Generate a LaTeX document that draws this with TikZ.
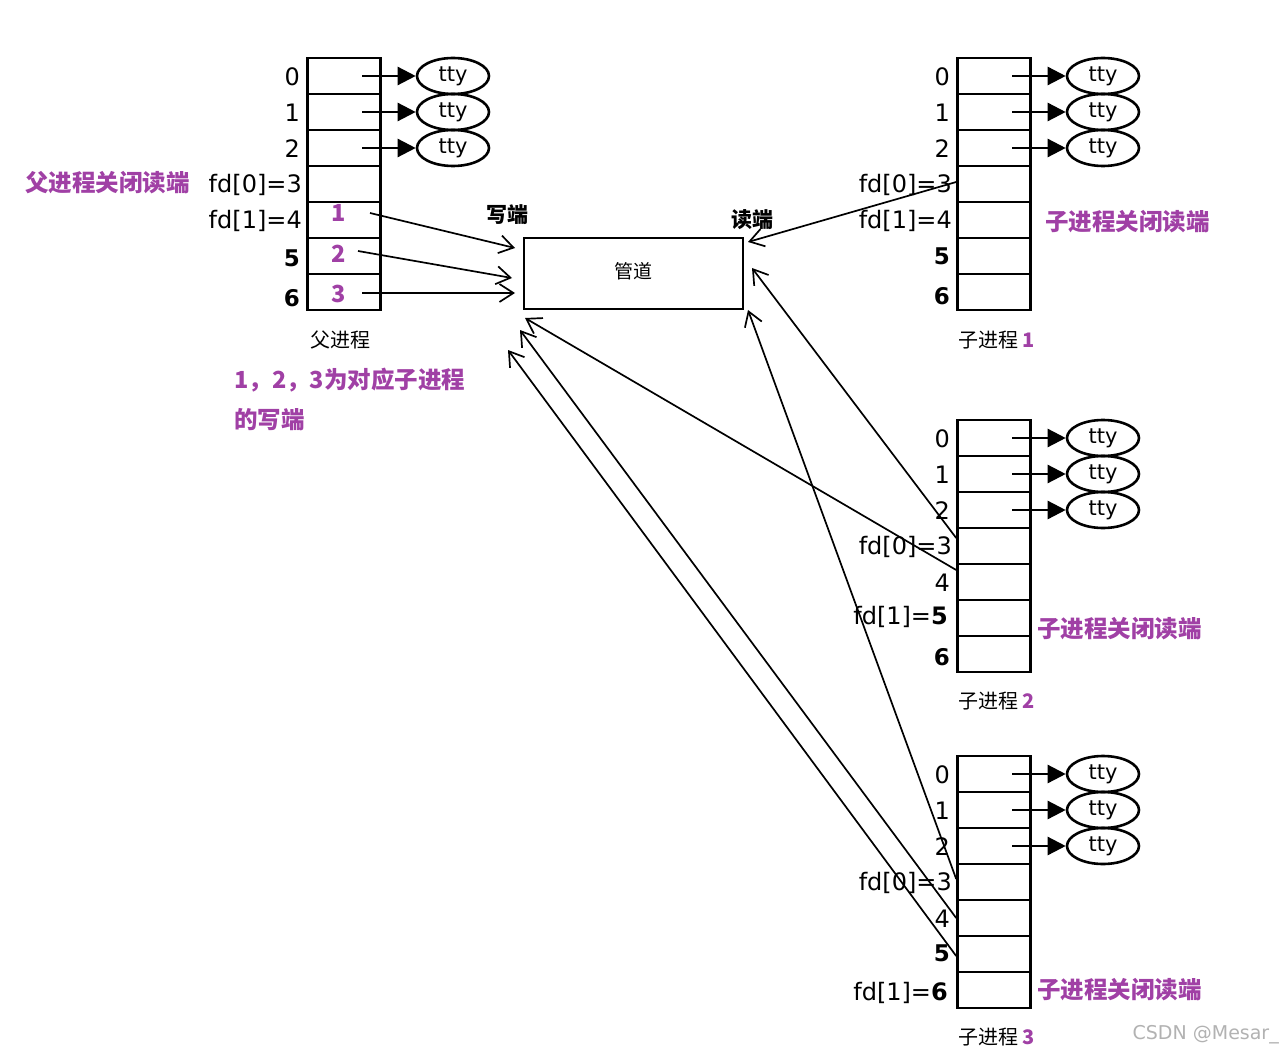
\documentclass[tikz,border=0pt]{standalone}
\usepackage{fontspec}
\setmainfont{DejaVu Sans}
\newfontfamily\cjk{Noto Sans CJK SC}
\usetikzlibrary{arrows.meta,shapes.geometric}
\definecolor{mag}{RGB}{160,64,165}
\begin{document}
\begin{tikzpicture}[x=1pt,y=-1pt,
 cell/.style={draw,line width=2.6pt,minimum width=73pt,minimum height=36pt,inner sep=0pt},
 tty/.style={draw,ellipse,line width=2.6pt,minimum width=72pt,minimum height=36pt,inner sep=0pt,font=\fontsize{21}{21}\selectfont},
 lab/.style={font=\fontsize{24}{24}\selectfont,anchor=east,inner sep=0pt},
 blab/.style={lab,font=\fontsize{23}{23}\selectfont\bfseries},
 mg/.style={text=mag,font=\cjk\fontsize{23.5}{23.5}\selectfont\bfseries,inner sep=0pt},
 captxt/.style={font=\cjk\fontsize{20}{20}\selectfont,inner sep=0pt},
 ta/.style={-{Triangle[length=18pt,width=18pt]},line width=2.4pt},
 pa/.style={-{Straight Barb[length=14pt,width=18pt]},line width=1.7pt}]
\useasboundingbox[fill=white] (0,0) rectangle (1281,1056);
% tables
\foreach \tx/\ty/\nm in {344/58/p,994/58/a,994/420/b,994/756/c}{
 \foreach \i in {0,...,6}{
  \node[cell] (\nm\i) at (\tx,\ty+18+36*\i) {};
 }
 \foreach \i in {0,1,2}{
  \node[tty] (\nm t\i) at (\tx+109,\ty+18+36*\i) {tty};
  \coordinate (\nm s\i) at (\tx+18,\ty+18+36*\i);
  \draw[ta] (\nm s\i) -- (\nm t\i.west);
 }
}
% parent labels
\node[lab] at (300,77) {0};
\node[lab] at (300,113) {1};
\node[lab] at (300,149) {2};
\node[lab] at (302,185) {fd[0]=3};
\node[lab] at (302,221) {fd[1]=4};
\node[blab] at (300,258) {5};
\node[blab] at (300,298) {6};
\node[mg] (m1) at (339,213) {1};
\node[mg] (m2) at (339,254) {2};
\node[mg] (m3) at (339,294) {3};
\node[mg,anchor=west] at (25,183) {父进程关闭读端};
\node[captxt] at (340,340) {父进程};
\node[mg,anchor=west] at (234,380) {1，2，3为对应子进程};
\node[mg,anchor=west] at (234,420) {的写端};
% child 1
\node[lab] at (950,77) {0};
\node[lab] at (950,113) {1};
\node[lab] at (950,149) {2};
\node[lab] at (952,185) {fd[0]=3};
\node[lab] at (952,221) {fd[1]=4};
\node[blab] at (950,256) {5};
\node[blab] at (950,296) {6};
\node[mg,anchor=west] at (1045,222) {子进程关闭读端};
\node[captxt,anchor=west] at (958,340) {子进程 \textcolor{mag}{\bfseries 1}};
% child 2
\node[lab] at (950,439) {0};
\node[lab] at (950,475) {1};
\node[lab] at (950,511) {2};
\node[lab] at (952,547) {fd[0]=3};
\node[lab] at (950,583) {4};
\node[lab] at (948,617) {fd[1]=\textbf{5}};
\node[blab] at (950,657) {6};
\node[mg,anchor=west] at (1037,629) {子进程关闭读端};
\node[captxt,anchor=west] at (958,701) {子进程 \textcolor{mag}{\bfseries 2}};
% child 3
\node[lab] at (950,775) {0};
\node[lab] at (950,811) {1};
\node[lab] at (950,847) {2};
\node[lab] at (952,883) {fd[0]=3};
\node[lab] at (950,919) {4};
\node[blab] at (950,953) {5};
\node[lab] at (948,993) {fd[1]=\textbf{6}};
\node[mg,anchor=west] at (1037,990) {子进程关闭读端};
\node[captxt,anchor=west] at (958,1037) {子进程 \textcolor{mag}{\bfseries 3}};
\node[text=gray!60,font=\fontsize{19}{19}\selectfont,anchor=east,inner sep=0pt] at (1279,1035) {CSDN @Mesar\_};
% pipe
\node[draw,line width=2.6pt,minimum width=219pt,minimum height=71pt,inner sep=0pt] (pipe) at (633.5,273.5) {};
\node[font=\cjk\fontsize{19}{19}\selectfont] at (633,271) {管道};
\node[font=\cjk\fontsize{21}{21}\selectfont\bfseries] at (507,215) {写端};
\node[font=\cjk\fontsize{21}{21}\selectfont\bfseries] at (752,220) {读端};
% pipe ends
\coordinate (w1) at (515,248); \coordinate (w2) at (512,278); \coordinate (w3) at (515,293);
\coordinate (w4) at (525,318); \coordinate (w5) at (520,330); \coordinate (w6) at (508,350);
\coordinate (r1) at (748,242); \coordinate (r2) at (752,268); \coordinate (r3) at (748,310);
\coordinate (s1) at (370,213); \coordinate (s2) at (358,251); \coordinate (s3) at (362,293);
\draw[pa] (s1) -- (w1);
\draw[pa] (s2) -- (w2);
\draw[pa] (s3) -- (w3);
\draw[pa] (a3.west) ++(0,-2) -- (r1);
\draw[pa] (b3.west) ++(0,-8) -- (r2);
\draw[pa] (b4.west) ++(0,-12) -- (w4);
\draw[pa] (c3.west) ++(0,-3) -- (r3);
\draw[pa] (c4.west) ++(0,0) -- (w5);
\draw[pa] (c5.west) ++(0,2) -- (w6);
\end{tikzpicture}
\end{document}
